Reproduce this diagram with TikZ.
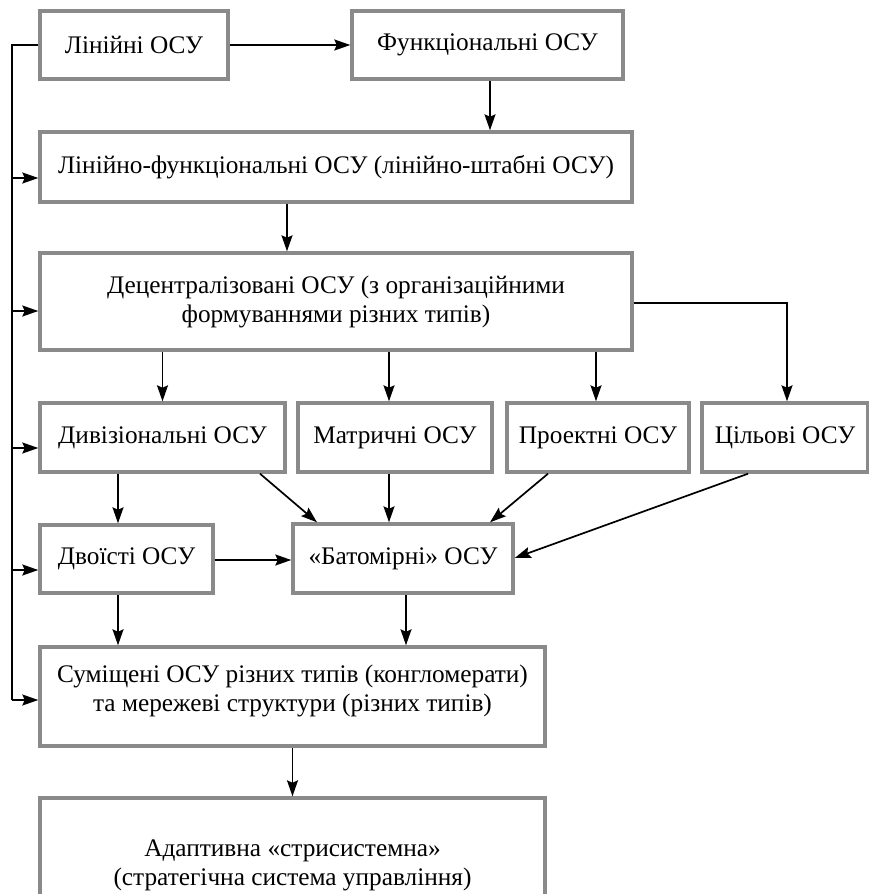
\documentclass[tikz,border=0pt]{standalone}
\usepackage{fontspec}
\setmainfont{Liberation Serif}
\usetikzlibrary{arrows.meta}
\definecolor{boxgray}{HTML}{8A8A8A}
\newcommand{\fsz}{\fontsize{25.3}{29}\selectfont}
\begin{document}
\begin{tikzpicture}[x=1pt,y=-1pt,
  box/.style={draw=boxgray, line width=3.4pt, fill=white, inner sep=0pt, align=center, font=\fsz},
  ln/.style={line width=1.7pt},
  arr/.style={line width=1.7pt, -{Stealth[length=16pt,width=11pt,inset=2.5pt]}}]
\useasboundingbox (0,0) rectangle (869,894);
\clip (0,0) rectangle (869,894);
% boxes
\node[box, minimum width=188pt, minimum height=68pt] (n1) at (134,45) {Лінійні ОСУ};
\node[box, minimum width=271pt, minimum height=68pt] (n2) at (487.5,45) {Функціональні ОСУ};
\node[box, minimum width=592pt, minimum height=70pt] (n3) at (336,167) {Лінійно-функціональні ОСУ (лінійно-штабні ОСУ)};
\node[box, minimum width=592pt, minimum height=97pt] (n4) at (336,301.5) {Децентралізовані ОСУ (з організаційними\\ формуваннями різних типів)};
\node[box, minimum width=245pt, minimum height=69pt] (n5) at (162.5,437.5) {Дивізіональні ОСУ};
\node[box, minimum width=194pt, minimum height=69pt] (n6) at (395,437.5) {Матричні ОСУ};
\node[box, minimum width=182pt, minimum height=69pt] (n7) at (598,437.5) {Проектні ОСУ};
\node[box, minimum width=166pt, minimum height=69pt] (n8) at (785,437.5) {Цільові ОСУ};
\node[box, minimum width=173pt, minimum height=68pt] (n9) at (126.5,559) {Двоїсті ОСУ};
\node[box, minimum width=220pt, minimum height=69pt] (n10) at (403,558.5) {«Батомірні» ОСУ};
\node[box, minimum width=505pt, minimum height=99pt] (n11) at (292.5,696.5) {Суміщені ОСУ різних типів (конгломерати)\\ та мережеві структури (різних типів)\\[-12pt]};
\node[box, minimum width=505pt, minimum height=134pt] (n12) at (292.5,865) {Адаптивна «стрисистемна»\\ (стратегічна система управління)};
% left bus
\coordinate (b1) at (12,45);
\coordinate (b3) at (12,178);
\coordinate (b4) at (12,311);
\coordinate (b5) at (12,448);
\coordinate (b9) at (12,570);
\coordinate (b11) at (12,700);
\draw[ln] (n1.west) -- (b1) -- (b11);
\draw[arr] (b3) -- (b3 -| n3.west);
\draw[arr] (b4) -- (b4 -| n4.west);
\draw[arr] (b5) -- (b5 -| n5.west);
\draw[arr] (b9) -- (b9 -| n9.west);
\draw[arr] (b11) -- (b11 -| n11.west);
% main flow
\draw[arr] (n1.east) -- (n2.west);
\draw[arr] (n2.south -| 490,0) -- (n3.north -| 490,0);
\draw[arr] (n3.south -| 287,0) -- (n4.north -| 287,0);
\draw[arr] (n4.south -| n5.north) -- (n5.north);
\draw[arr] (n4.south -| 389,0) -- (n6.north -| 389,0);
\draw[arr] (n4.south -| 596,0) -- (n7.north -| 596,0);
\coordinate (c8) at (787,303);
\draw[arr] (c8 -| n4.east) -- (c8) -- (n8.north -| c8);
\draw[arr] (n5.south -| 118,0) -- (n9.north -| 118,0);
\draw[arr] (n5.south -| 260,0) -- (n10.north -| 317,0);
\draw[arr] (n6.south -| 389,0) -- (n10.north -| 389,0);
\draw[arr] (n7.south -| 548,0) -- (n10.north -| 490,0);
\draw[arr] (n8.south -| 748,0) -- (n10.east |- 0,558);
\draw[arr] (n9.east |- 0,560) -- (n10.west |- 0,560);
\draw[arr] (n9.south -| 118,0) -- (n11.north -| 118,0);
\draw[arr] (n10.south -| 406,0) -- (n11.north -| 406,0);
\draw[arr] (n11.south) -- (n12.north);
\end{tikzpicture}
\end{document}
